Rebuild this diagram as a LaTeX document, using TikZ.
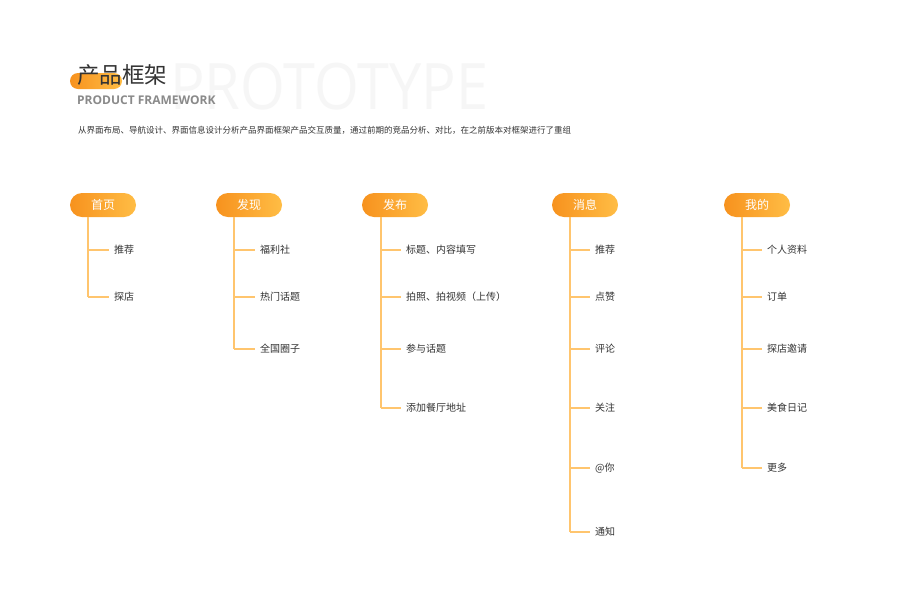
\documentclass[tikz,border=0pt]{standalone}
\usepackage{fontspec}
\setmainfont{Noto Sans CJK SC}
\newfontfamily\latinfont{Open Sans}
\definecolor{orL}{HTML}{F7921E}
\definecolor{orR}{HTML}{FFBD45}
\definecolor{branchc}{HTML}{FFC56E}
\definecolor{txt}{HTML}{333333}
\definecolor{subg}{HTML}{8A8A8A}
\definecolor{ghost}{HTML}{F6F6F6}
\tikzset{
  pill/.style={rounded corners=12pt, minimum width=66pt, minimum height=24pt,
    left color=orL, right color=orR, draw=none, text=white,
    font=\fontsize{12}{12}\selectfont, inner sep=0pt},
  itemlabel/.style={anchor=west, inner sep=0pt, text=txt,
    font=\fontsize{10}{10}\selectfont},
  branch/.style={draw=branchc, line width=1.2pt},
  twig/.style={draw=branchc, line width=1.2pt, shorten >=5pt},
}
\begin{document}
\begin{tikzpicture}[x=1pt,y=-1pt]
\useasboundingbox[fill=white] (0,0) rectangle (909,600);
% header
\node[anchor=west, inner sep=0pt, text=ghost, font=\latinfont\fontsize{64}{64}\selectfont] (ghostword) at (170,87) {\scalebox{0.9}[1]{PROTOTYPE}};
\path[left color=orL, right color=orR, rounded corners=8pt] (70,73) rectangle (122,89);
\node[anchor=west, inner sep=0pt, text=txt, font=\fontsize{22.5}{22.5}\selectfont] (title) at (77,75) {产品框架};
\node[anchor=west, inner sep=0pt, text=subg, font=\latinfont\bfseries\fontsize{12}{12}\selectfont] (subtitle) at (77,100) {PRODUCT FRAMEWORK};
\node[anchor=west, inner sep=0pt, text=txt, font=\fontsize{8.5}{8.5}\selectfont] (desc) at (78,130) {从界面布局、导航设计、界面信息设计分析产品界面框架产品交互质量，通过前期的竞品分析、对比，在之前版本对框架进行了重组};

% column 1
\node[pill] (p1) at (103,205) {首页};
\node[itemlabel] (i11) at (114,250) {推荐};
\node[itemlabel] (i12) at (114,297) {探店};
\coordinate (b11) at (88,250);
\coordinate (b12) at (88,297);
\draw[branch] (p1.south -| b11) -- (b12);
\draw[twig] (b11) -- (i11.west);
\draw[twig] (b12) -- (i12.west);

% column 2
\node[pill] (p2) at (249,205) {发现};
\node[itemlabel] (i21) at (260,250) {福利社};
\node[itemlabel] (i22) at (260,297) {热门话题};
\node[itemlabel] (i23) at (260,349) {全国圈子};
\coordinate (b21) at (234,250);
\coordinate (b22) at (234,297);
\coordinate (b23) at (234,349);
\draw[branch] (p2.south -| b21) -- (b23);
\draw[twig] (b21) -- (i21.west);
\draw[twig] (b22) -- (i22.west);
\draw[twig] (b23) -- (i23.west);

% column 3
\node[pill] (p3) at (395,205) {发布};
\node[itemlabel] (i31) at (406,250) {标题、内容填写};
\node[itemlabel] (i32) at (406,297) {拍照、拍视频（上传）};
\node[itemlabel] (i33) at (406,349) {参与话题};
\node[itemlabel] (i34) at (406,408) {添加餐厅地址};
\coordinate (b31) at (381,250);
\coordinate (b32) at (381,297);
\coordinate (b33) at (381,349);
\coordinate (b34) at (381,408);
\draw[branch] (p3.south -| b31) -- (b34);
\draw[twig] (b31) -- (i31.west);
\draw[twig] (b32) -- (i32.west);
\draw[twig] (b33) -- (i33.west);
\draw[twig] (b34) -- (i34.west);

% column 4
\node[pill] (p4) at (585,205) {消息};
\node[itemlabel] (i41) at (595,250) {推荐};
\node[itemlabel] (i42) at (595,297) {点赞};
\node[itemlabel] (i43) at (595,349) {评论};
\node[itemlabel] (i44) at (595,408) {关注};
\node[itemlabel] (i45) at (595,468) {@你};
\node[itemlabel] (i46) at (595,532) {通知};
\coordinate (b41) at (570,250);
\coordinate (b42) at (570,297);
\coordinate (b43) at (570,349);
\coordinate (b44) at (570,408);
\coordinate (b45) at (570,468);
\coordinate (b46) at (570,532);
\draw[branch] (p4.south -| b41) -- (b46);
\draw[twig] (b41) -- (i41.west);
\draw[twig] (b42) -- (i42.west);
\draw[twig] (b43) -- (i43.west);
\draw[twig] (b44) -- (i44.west);
\draw[twig] (b45) -- (i45.west);
\draw[twig] (b46) -- (i46.west);

% column 5
\node[pill] (p5) at (757,205) {我的};
\node[itemlabel] (i51) at (767,250) {个人资料};
\node[itemlabel] (i52) at (767,297) {订单};
\node[itemlabel] (i53) at (767,349) {探店邀请};
\node[itemlabel] (i54) at (767,408) {美食日记};
\node[itemlabel] (i55) at (767,468) {更多};
\coordinate (b51) at (742,250);
\coordinate (b52) at (742,297);
\coordinate (b53) at (742,349);
\coordinate (b54) at (742,408);
\coordinate (b55) at (742,468);
\draw[branch] (p5.south -| b51) -- (b55);
\draw[twig] (b51) -- (i51.west);
\draw[twig] (b52) -- (i52.west);
\draw[twig] (b53) -- (i53.west);
\draw[twig] (b54) -- (i54.west);
\draw[twig] (b55) -- (i55.west);
\end{tikzpicture}
\end{document}
